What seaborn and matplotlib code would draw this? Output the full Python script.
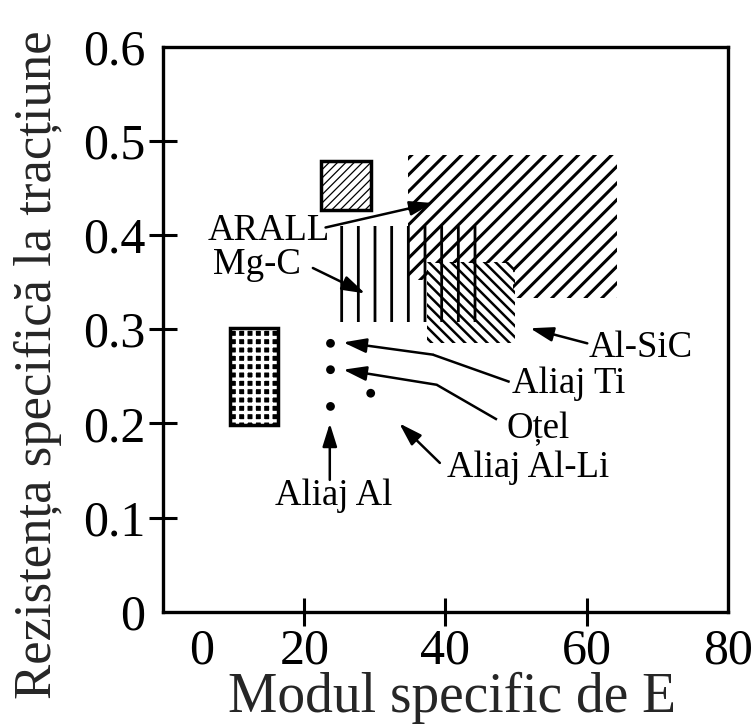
import matplotlib
matplotlib.use("Agg")
import matplotlib.pyplot as plt
import matplotlib.transforms as mtransforms
import seaborn as sns

# Hatched material regions (data units)
arall_x = [34.7, 64.3, 64.3, 49.6, 49.6, 37.5, 37.5, 34.7]
arall_y = [0.485, 0.485, 0.333, 0.333, 0.370, 0.370, 0.352, 0.352]
mgc_x = [24.6, 44.4]
mgc_y = [0.308, 0.410]
alsic_x = [37.4, 49.9]
alsic_y = [0.285, 0.371]
box_x = [22.4, 29.5]
box_y = [0.427, 0.479]
dots_x = [9.4, 16.2]
dots_y = [0.198, 0.301]

# Materials shown as single points
point_x = [23.7, 23.7, 23.7, 29.4]
point_y = [0.285, 0.257, 0.218, 0.232]

# Labels with leader arrows (tail -> bend -> tip)
label_text = ["ARALL", "Mg-C", "Al-SiC", "Aliaj Ti", "Oțel", "Aliaj Al-Li", "Aliaj Al"]
label_x = [6.3, 7.1, 60.3, 49.4, 48.7, 40.2, 15.8]
label_y = [0.395, 0.359, 0.270, 0.232, 0.184, 0.143, 0.113]
tail_x = [23.0, 21.2, 60.1, 49.1, 47.3, 39.2, 23.6]
tail_y = [0.408, 0.365, 0.285, 0.244, 0.204, 0.158, 0.140]
bend_x = [23.0, 21.2, 60.1, 38.2, 38.75, 39.2, 23.6]
bend_y = [0.408, 0.365, 0.285, 0.273, 0.241, 0.158, 0.140]
tip_x = [38.2, 28.6, 52.0, 25.5, 25.5, 33.45, 23.6]
tip_y = [0.434, 0.338, 0.301, 0.286, 0.257, 0.200, 0.200]

x_ticks = [0, 20, 40, 60, 80]
y_ticks = [0, 0.1, 0.2, 0.3, 0.4, 0.5, 0.6]
y_tick_labels = ["0", "0.1", "0.2", "0.3", "0.4", "0.5", "0.6"]

sns.set_theme(style="white")
plt.rcParams["font.family"] = ["Liberation Serif", "DejaVu Serif"]

fig = plt.figure(figsize=(7.55, 7.24), dpi=100)
ax = fig.add_axes([0.2163, 0.1551, 0.7475, 0.7804])


def rect(xs, ys):
    return [xs[0], xs[1], xs[1], xs[0]], [ys[0], ys[0], ys[1], ys[1]]


def hatched(xs, ys, hatch, hlw, face="none", hcolor="black", edge_lw=0, z=1):
    with plt.rc_context({"hatch.linewidth": hlw}):
        p = ax.fill(xs, ys, facecolor=face, edgecolor=hcolor, hatch=hatch,
                    linewidth=edge_lw, zorder=z)[0]
    if hasattr(p, "set_hatch_linewidth"):
        p.set_hatch_linewidth(hlw)
    return p


hatched(arall_x, arall_y, "//", 2.2)
hatched(*rect(mgc_x, mgc_y), "|", 2.0)
hatched(*rect(alsic_x, alsic_y), "\\\\\\", 1.8)
hatched(*rect(box_x, box_y), "////", 0.9, face="white", edge_lw=2.5, z=2)
hatched(*rect(dots_x, dots_y), "++", 2.4, face="black", hcolor="white", z=2)
ax.fill(*rect(dots_x, dots_y), facecolor="none", edgecolor="black", linewidth=2.5, zorder=3)

sns.scatterplot(x=point_x, y=point_y, color="black", s=40, edgecolor="none",
                legend=False, ax=ax, zorder=4)

arrow = dict(arrowstyle="-|>,head_length=0.7,head_width=0.22", color="black",
             lw=1.8, mutation_scale=20, shrinkA=0, shrinkB=0)
for i, txt in enumerate(label_text):
    ax.text(label_x[i], label_y[i], txt, fontsize=26.5, ha="left", va="baseline",
            color="black", zorder=5)
    if (bend_x[i], bend_y[i]) != (tail_x[i], tail_y[i]):
        ax.plot([tail_x[i], bend_x[i]], [tail_y[i], bend_y[i]], color="black",
                lw=1.8, solid_capstyle="butt", zorder=5)
    ax.annotate("", xy=(tip_x[i], tip_y[i]), xytext=(bend_x[i], bend_y[i]),
                arrowprops=arrow, zorder=5)

ax.set_xlim(0, 80)
ax.set_ylim(0, 0.6)
ax.set_xticks(x_ticks)
ax.set_xticklabels([str(v) for v in x_ticks])
ax.set_yticks(y_ticks)
ax.set_yticklabels(y_tick_labels)
ax.tick_params(axis="both", direction="inout", length=20, width=2.2,
               labelsize=36, colors="black", left=True, bottom=True)
ax.tick_params(axis="x", pad=2)
ax.tick_params(axis="y", pad=3)
for s in ax.spines.values():
    s.set_linewidth(2.4)
    s.set_color("black")

for ticks in (ax.xaxis.get_major_ticks(), ax.yaxis.get_major_ticks()):
    ticks[0].tick1line.set_visible(False)
    ticks[-1].tick1line.set_visible(False)

ax.set_xlabel("Modul specific de E", fontsize=40, ha="left", va="baseline")
ax.xaxis.set_label_coords(0.115, -0.177)
ax.set_ylabel("Rezistența specifică la tracțiune", fontsize=38, va="baseline")
ax.yaxis.set_label_coords(-0.2007, 0.4366)

zero = ax.get_xticklabels()[0]
zero.set_transform(zero.get_transform()
                   + mtransforms.ScaledTranslation(0.38, 0, fig.dpi_scale_trans))

fig.savefig("out.png", dpi=100, facecolor="white")
